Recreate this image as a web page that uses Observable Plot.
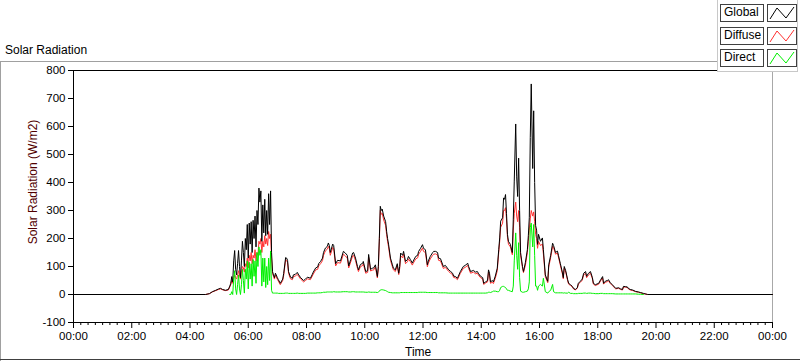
<!DOCTYPE html>
<html><head><meta charset="utf-8">
<script src="https://cdn.jsdelivr.net/npm/d3@7"></script>
<script src="https://cdn.jsdelivr.net/npm/@observablehq/plot@0.6"></script>
<style>
body{margin:0;background:#fff;font-family:"Liberation Sans",Arial,sans-serif;}
#wrap{position:relative;width:800px;height:361px;overflow:hidden;background:#fff;}
#wrap svg{position:absolute;left:0;top:0;}
.ov{position:absolute;white-space:nowrap;color:#000;}
.hl{position:absolute;height:1px;}
.vl{position:absolute;width:1px;}
.lbox{position:absolute;border:1px solid #404040;background:#fff;font-size:12px;line-height:15px;padding-left:3px;box-sizing:border-box;}
.sbox{position:absolute;border:1px solid #404040;background:#fff;box-sizing:border-box;}
</style></head><body><div id="wrap"></div>
<script>
// ---- data ----
const minutes = [0,272,280,286,293,299,303,307,313,319,322,
324,326,328,330,332,334,336,338,340,342,344,346,348,350,352,354,356,358,360,362,364,366,368,370,372,374,376,378,380,382,384,386,388,390,392,394,396,398,400,402,404,406,408,410,412,414,
416,420,422,426,431,433,437,439,441,443,447,451,453,457,461,464,468,474,478,482,488,492,494,499,503,505,509,513,515,519,523,525,527,529,534,536,540,544,550,556,560,564,567,571,575,577,581,585,587,591,596,597,602,606,608,612,616,618,622,626,628,630,632,634,636,639,643,645,647,649,653,657,659,663,667,670,672,674,678,680,684,688,690,694,698,700,705,709,711,715,719,721,725,729,731,735,740,742,
746,750,752,756,762,766,773,777,781,783,787,791,797,803,808,812,814,818,824,828,832,834,838,843,845,849,853,855,857,859,863,865,869,873,876,878,880,884,886,888,890,892,894,896,900,904,906,908,911,913,915,917,919,921,925,927,931,935,937,939,941,943,946,948,950,952,954,956,958,962,966,968,972,977,979,983,987,989,993,997,999,1003,1007,1009,1011,1014,1018,1020,1024,1028,1030,1034,1038,1040,1044,1048,1051,1055,1057,1061,1065,1069,1071,1075,1082,1086,1090,1092,1096,1100,1102,1106,1110,1117,1123,1127,1131,1133,1137,1141,1143,1147,1152,1158,1164,1168,1174,1183,1440];

const globalRad = [0,0,3,10,15,20,22,18,15,18,30,
40,64,45,120,157,90,70,110,157,100,60,120,190,150,100,200,160,250,130,255,180,260,150,265,200,280,170,300,250,380,330,370,190,320,220,340,210,300,215,360,250,370,150,82,70,60,
76,60,53,40,55,75,132,130,122,82,62,58,70,72,79,70,60,50,55,62,58,72,80,95,98,110,118,130,150,166,172,184,175,150,180,175,110,122,120,154,148,140,102,125,148,150,130,100,88,107,112,118,82,85,143,90,94,94,106,64,100,200,315,300,305,280,260,226,200,180,130,106,94,88,110,76,100,148,140,154,118,125,136,125,112,120,136,140,154,165,178,165,160,106,120,136,150,154,
154,150,130,128,100,104,88,82,76,66,64,58,82,100,105,112,100,82,86,80,82,76,66,60,40,45,50,88,76,45,50,45,66,94,160,202,262,274,345,340,357,290,215,190,179,150,269,405,609,420,350,487,300,150,100,82,115,160,210,274,560,752,450,656,400,246,230,179,215,190,202,160,70,47,106,140,183,175,150,155,140,110,80,60,100,85,53,40,35,28,22,18,25,40,47,55,76,82,65,76,82,60,40,35,40,53,64,40,48,50,53,42,35,22,24,20,18,29,28,27,22,18,16,11,9,7,4,0,0];

const diffuseRad = [0,0,3,9,14,18,20,17,14,16,27,
35,50,40,60,70,60,55,70,85,70,55,80,100,95,80,110,100,130,95,140,120,150,110,140,130,160,120,150,140,190,180,200,150,190,170,210,180,200,175,225,200,215,130,75,65,55,
70,54,48,35,50,68,124,122,114,76,56,53,64,66,72,64,55,45,50,56,53,66,73,88,90,102,110,121,140,156,162,172,164,140,168,164,102,114,112,144,138,130,95,116,138,140,121,93,82,99,104,110,76,79,133,84,87,87,98,59,92,188,300,286,290,266,247,214,190,170,122,99,88,82,103,71,93,138,131,144,110,117,127,117,105,112,127,131,144,154,166,154,150,99,112,127,140,144,
145,141,122,120,93,97,82,76,71,61,59,53,76,93,98,104,93,76,80,74,76,70,61,55,36,41,45,80,69,40,44,39,58,85,150,190,240,255,300,300,310,270,205,180,170,142,230,290,330,280,260,300,240,140,95,78,105,150,190,230,270,300,280,295,260,215,200,165,190,175,180,145,64,42,98,132,172,168,144,148,134,104,75,56,94,80,49,37,32,26,20,16,23,37,43,51,70,76,60,70,76,56,37,32,37,49,59,37,44,46,49,39,32,20,22,18,16,27,26,25,20,16,14,10,8,6,3,0,0];

const directRad = [null,null,null,null,null,null,null,null,null,null,0,
0,10,0,55,85,20,0,35,70,20,0,35,90,50,5,90,55,120,20,115,55,110,30,125,65,120,40,150,100,170,140,160,30,130,45,130,25,100,35,130,50,155,15,5,5,5,
5,5,4,4,4,4,5,5,5,4,4,4,4,4,5,4,4,4,4,5,5,5,5,5,6,6,6,7,8,8,9,9,9,9,9,10,9,9,9,10,10,10,9,9,10,10,9,9,9,9,9,9,8,8,9,8,8,8,8,7,8,12,16,17,17,16,14,12,10,8,7,6,6,6,6,6,6,7,7,7,7,7,7,7,7,7,7,7,8,8,8,8,8,7,7,7,7,7,
7,7,6,6,6,6,5,5,5,5,5,5,5,5,5,5,5,5,5,5,5,5,5,5,5,5,6,8,8,7,10,12,12,10,10,15,25,29,29,27,25,20,15,15,12,10,30,120,220,140,90,185,60,12,8,8,10,12,20,45,240,255,170,250,140,30,30,15,30,36,30,58,10,5,10,15,36,10,6,6,6,6,6,5,6,5,5,8,4,4,3,3,3,4,4,4,5,5,4,5,5,4,4,3,3,4,4,3,3,3,3,3,3,2,2,2,2,2,2,2,2,2,2,2,1,1,0,null,null];

const seriesNames = ["Global","Diffuse","Direct"];
const xTickLabels = ["00:00","02:00","04:00","06:00","08:00","10:00","12:00","14:00","16:00","18:00","20:00","22:00","00:00"];
const yTicks = [-100,0,100,200,300,400,500,600,700,800];
const chartTitle = "Solar Radiation";
const yLabel = "Solar Radiation (W/m2)";
const xLabel = "Time";

// ---- build ----
const T0 = Date.UTC(2020,0,1);
const toDate = m => new Date(T0 + m*60000);
const rows = (arr) => minutes.map((m,i) => ({t: toDate(m), v: arr[i] == null ? NaN : arr[i]}));
const xStart = toDate(0), xEnd = toDate(1440);
const majorTicks = xTickLabels.map((_, i) => toDate(i*120));
const minorTicks = d3.range(0, 1441, 15).filter(m => m % 120 !== 0).map(toDate);
const colors = ["#000000", "#ff3030", "#00f000"];

const chart = Plot.plot({
  width: 800, height: 361,
  marginLeft: 73, marginRight: 28, marginTop: 70, marginBottom: 39,
  style: {fontFamily: '"Liberation Sans", Arial, sans-serif', fontSize: "11.5px", color: "#000", background: "transparent", overflow: "visible"},
  x: {type: "utc", domain: [xStart, xEnd]},
  y: {domain: [-100, 800]},
  marks: [
    Plot.ruleY([800], {stroke: "#000"}),
    Plot.ruleX([xEnd], {stroke: "#a8a8a8"}),
    Plot.axisY({ticks: yTicks, tickSize: 5, tickPadding: 3, label: null, tickFormat: d => String(d)}),
    Plot.axisX({ticks: majorTicks, tickSize: 6, tickPadding: 3, label: null, tickFormat: (d, i) => xTickLabels[i]}),
    Plot.axisX({ticks: minorTicks, tickSize: 3, label: null, tickFormat: () => ""}),
    Plot.line(rows(diffuseRad), {x: "t", y: "v", stroke: colors[1], strokeWidth: 1}),
    Plot.line(rows(globalRad), {x: "t", y: "v", stroke: colors[0], strokeWidth: 1}),
    Plot.line(rows(directRad), {x: "t", y: "v", stroke: colors[2], strokeWidth: 1}),
    Plot.ruleX([xStart], {stroke: "#000"}),
    Plot.ruleY([-100], {stroke: "#000"})
  ]
});

const wrap = document.getElementById("wrap");
wrap.appendChild(chart);

function addEl(cls, style, text) {
  const d = document.createElement("div");
  d.className = cls;
  Object.assign(d.style, style);
  if (text != null) d.textContent = text;
  wrap.appendChild(d);
  return d;
}
// outer frame
addEl("hl", {left: "0px", top: "61px", width: "717px", background: "#a0a0a0"});
addEl("vl", {left: "0px", top: "61px", height: "300px", background: "#a0a0a0"});
addEl("hl", {left: "0px", top: "359px", width: "800px", background: "#404040"});
// texts
addEl("ov", {left: "5px", top: "43px", fontSize: "12px"}, chartTitle);
addEl("ov", {left: "33px", top: "182px", fontSize: "12px", color: "#500000", transform: "translate(-50%,-50%) rotate(-90deg)"}, yLabel);
addEl("ov", {left: "405px", top: "345px", fontSize: "12px"}, xLabel);
// legend panel
addEl("", {position: "absolute", left: "717px", top: "0px", width: "81px", height: "72px", borderLeft: "1px solid #c8c8c8", borderRight: "1px solid #c8c8c8", borderBottom: "1px solid #c8c8c8", background: "#fff", boxSizing: "border-box"});
seriesNames.forEach((name, k) => {
  const top = 4 + k * 22.5;
  addEl("lbox", {left: "720px", top: top + "px", width: "44px", height: "18px"}, name);
  const s = addEl("sbox", {left: "767px", top: top + "px", width: "30px", height: "18px"});
  s.innerHTML = `<svg width="28" height="16" style="position:absolute;left:0;top:0"><polyline points="2,14 9,3 18,13 26,2" fill="none" stroke="${colors[k]}" stroke-width="1"/></svg>`;
});
</script></body></html>
